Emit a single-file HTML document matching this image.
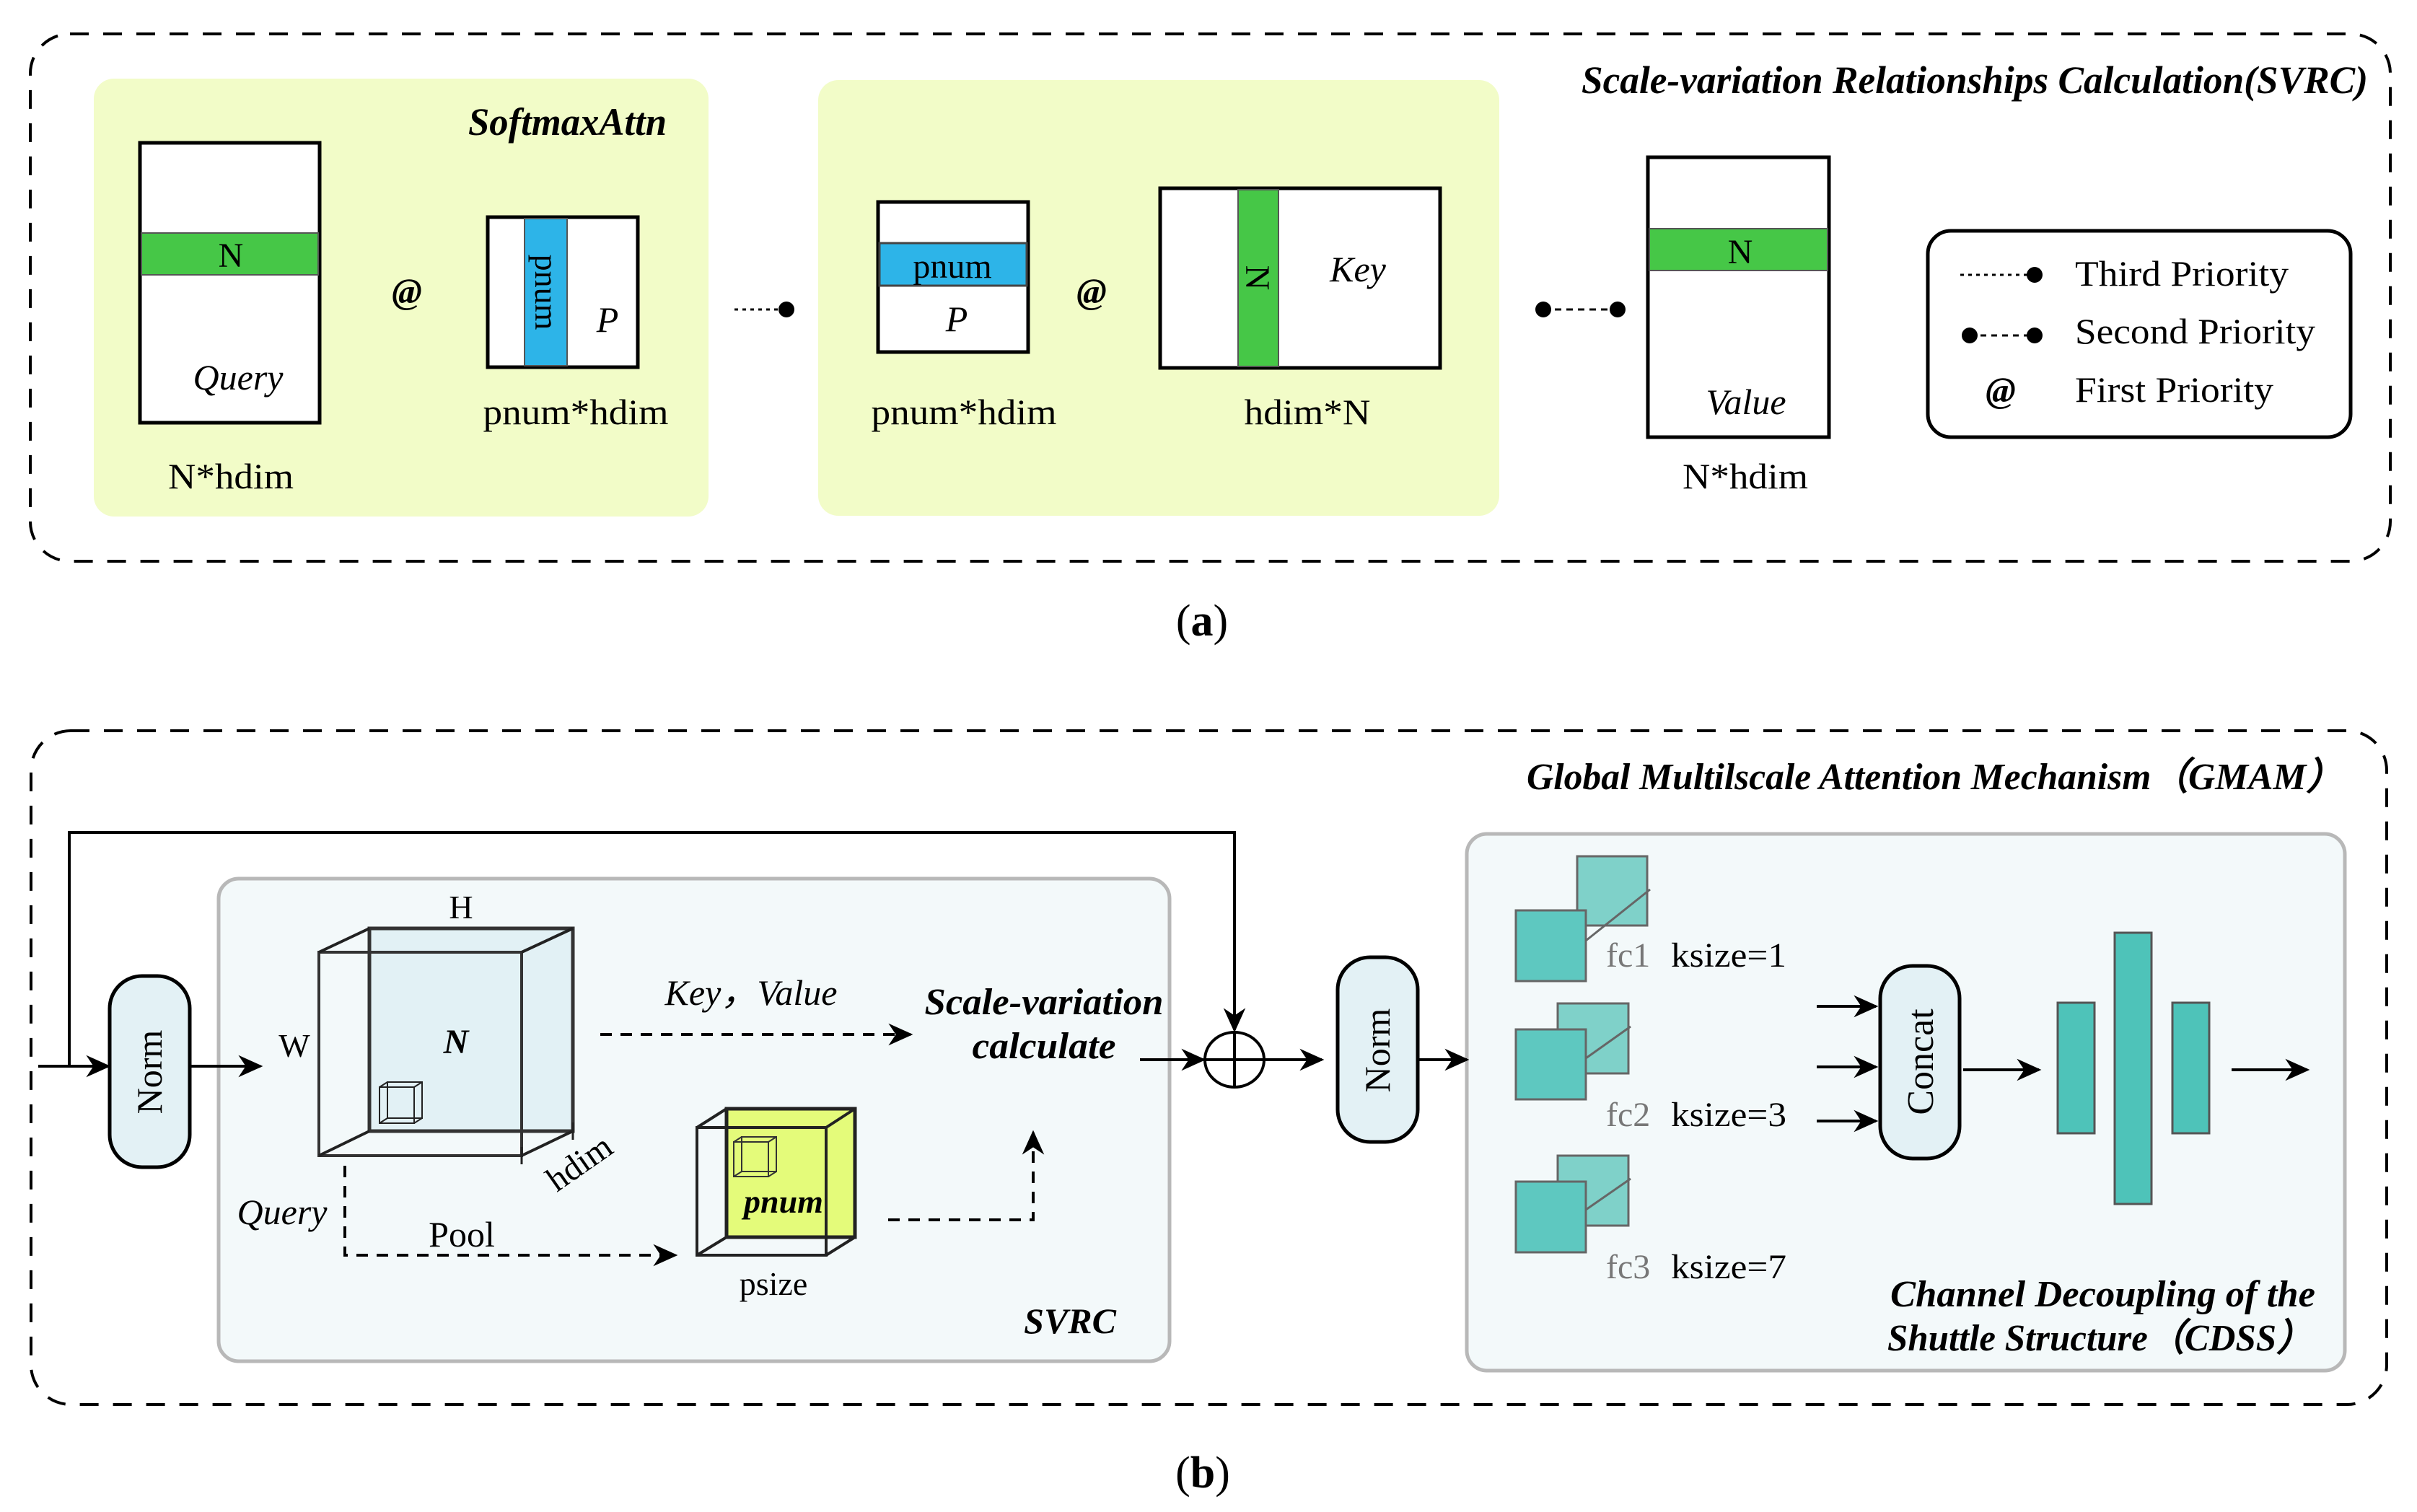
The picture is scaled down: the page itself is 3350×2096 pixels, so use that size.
<!DOCTYPE html>
<html><head><meta charset="utf-8"><style>
html,body{margin:0;padding:0;background:#fff;}
svg{display:block;}
text{font-family:"Liberation Serif",serif;fill:#000;}
.bi{font-weight:bold;font-style:italic;}
.it{font-style:italic;}
</style></head><body>
<svg width="3350" height="2096" viewBox="0 0 3350 2096" xmlns="http://www.w3.org/2000/svg">
<defs>
<marker id="ah" markerWidth="10" markerHeight="10" refX="9" refY="5" orient="auto" markerUnits="userSpaceOnUse" viewBox="0 0 10 10">
</marker>
<marker id="a" viewBox="0 0 20 20" refX="18" refY="10" markerWidth="34" markerHeight="34" orient="auto" markerUnits="userSpaceOnUse">
<path d="M0,1 L20,10 L0,19 L6,10 Z" fill="#000"/>
</marker>
</defs>

<!-- ===== (a) ===== -->
<rect x="42" y="47" width="3271" height="731" rx="55" fill="none" stroke="#000" stroke-width="4" stroke-dasharray="26,20"/>
<text x="3282" y="129" font-size="54" class="bi" text-anchor="end" textLength="1090" lengthAdjust="spacingAndGlyphs">Scale-variation Relationships Calculation(SVRC)</text>

<rect x="130" y="109" width="852" height="607" rx="28" fill="#f2fcc8"/>
<rect x="1134" y="111" width="944" height="604" rx="28" fill="#f2fcc8"/>
<text x="924" y="187" font-size="54" class="bi" text-anchor="end" textLength="275" lengthAdjust="spacingAndGlyphs">SoftmaxAttn</text>

<!-- Query -->
<rect x="194" y="198" width="249" height="388" fill="#fff" stroke="#000" stroke-width="5"/>
<rect x="196" y="323" width="245" height="58" fill="#46c747" stroke="#555" stroke-width="2"/>
<text x="320" y="370" font-size="48" text-anchor="middle">N</text>
<text x="330" y="540" font-size="50" class="it" text-anchor="middle">Query</text>
<text x="320" y="677" font-size="50" text-anchor="middle" textLength="174" lengthAdjust="spacingAndGlyphs">N*hdim</text>
<text x="564" y="420" font-size="50" class="bi" text-anchor="middle">@</text>

<!-- pnum P -->
<rect x="676" y="301" width="208" height="208" fill="#fff" stroke="#000" stroke-width="5"/>
<rect x="727" y="303" width="59" height="204" fill="#2db4e8" stroke="#555" stroke-width="2"/>
<text transform="translate(742,405) rotate(90)" font-size="46" text-anchor="middle">pnum</text>
<text x="842" y="460" font-size="50" class="it" text-anchor="middle">P</text>
<text x="798" y="588" font-size="50" text-anchor="middle" textLength="257" lengthAdjust="spacingAndGlyphs">pnum*hdim</text>

<!-- third priority connector -->
<line x1="1018" y1="429" x2="1088" y2="429" stroke="#000" stroke-width="3" stroke-dasharray="5,6"/>
<circle cx="1090" cy="429" r="11"/>

<!-- pnum P 2 -->
<rect x="1217" y="280" width="208" height="208" fill="#fff" stroke="#000" stroke-width="5"/>
<rect x="1219" y="337" width="204" height="59" fill="#2db4e8" stroke="#444" stroke-width="3"/>
<text x="1320" y="385" font-size="48" text-anchor="middle">pnum</text>
<text x="1326" y="459" font-size="50" class="it" text-anchor="middle">P</text>
<text x="1336" y="588" font-size="50" text-anchor="middle" textLength="257" lengthAdjust="spacingAndGlyphs">pnum*hdim</text>
<text x="1513" y="420" font-size="50" class="bi" text-anchor="middle">@</text>

<!-- Key -->
<rect x="1608" y="261" width="388" height="249" fill="#fff" stroke="#000" stroke-width="5"/>
<rect x="1716" y="263" width="56" height="245" fill="#46c747" stroke="#555" stroke-width="2"/>
<text transform="translate(1727,385) rotate(90)" font-size="48" text-anchor="middle">N</text>
<text x="1882" y="390" font-size="50" class="it" text-anchor="middle">Key</text>
<text x="1812" y="588" font-size="50" text-anchor="middle" textLength="175" lengthAdjust="spacingAndGlyphs">hdim*N</text>

<!-- second priority connector -->
<circle cx="2139" cy="429" r="11"/>
<line x1="2139" y1="429" x2="2242" y2="429" stroke="#000" stroke-width="3" stroke-dasharray="9,7"/>
<circle cx="2242" cy="429" r="11"/>

<!-- Value -->
<rect x="2284" y="218" width="251" height="388" fill="#fff" stroke="#000" stroke-width="5"/>
<rect x="2286" y="317" width="247" height="58" fill="#46c747" stroke="#555" stroke-width="2"/>
<text x="2412" y="365" font-size="48" text-anchor="middle">N</text>
<text x="2420" y="574" font-size="50" class="it" text-anchor="middle">Value</text>
<text x="2419" y="677" font-size="50" text-anchor="middle" textLength="174" lengthAdjust="spacingAndGlyphs">N*hdim</text>

<!-- Legend -->
<rect x="2672" y="320" width="586" height="286" rx="32" fill="#fff" stroke="#000" stroke-width="5"/>
<line x1="2717" y1="381" x2="2815" y2="381" stroke="#000" stroke-width="3" stroke-dasharray="5,6"/>
<circle cx="2820" cy="381" r="11"/>
<text x="2876" y="396" font-size="50" textLength="296" lengthAdjust="spacingAndGlyphs">Third Priority</text>
<circle cx="2730" cy="465" r="11"/>
<line x1="2730" y1="465" x2="2820" y2="465" stroke="#000" stroke-width="3" stroke-dasharray="8,7"/>
<circle cx="2820" cy="465" r="11"/>
<text x="2876" y="476" font-size="50" textLength="333" lengthAdjust="spacingAndGlyphs">Second Priority</text>
<text x="2773" y="557" font-size="50" class="bi" text-anchor="middle">@</text>
<text x="2876" y="557" font-size="50" textLength="275" lengthAdjust="spacingAndGlyphs">First Priority</text>

<text x="1666" y="881" font-size="62" text-anchor="middle">(<tspan font-weight="bold">a</tspan>)</text>

<!-- ===== (b) ===== -->
<rect x="43" y="1013" width="3265" height="934" rx="55" fill="none" stroke="#000" stroke-width="4" stroke-dasharray="26,20"/>
<text x="3248" y="1094" font-size="52" class="bi" text-anchor="end" textLength="1132" lengthAdjust="spacingAndGlyphs">Global Multilscale Attention Mechanism（GMAM）</text>

<!-- SVRC panel -->
<rect x="303" y="1218" width="1318" height="669" rx="28" fill="#f3f9fa" stroke="#b8b8b8" stroke-width="5"/>
<!-- CDSS panel -->
<rect x="2033" y="1156" width="1217" height="744" rx="28" fill="#f3f9fa" stroke="#b8b8b8" stroke-width="5"/>

<!-- input & skip -->
<line x1="53" y1="1478" x2="150" y2="1478" stroke="#000" stroke-width="4" marker-end="url(#a)"/>
<polyline points="96,1478 96,1154 1711,1154 1711,1428" fill="none" stroke="#000" stroke-width="4" marker-end="url(#a)"/>

<!-- Norm 1 -->
<rect x="152" y="1353" width="111" height="265" rx="45" fill="#e3f1f5" stroke="#000" stroke-width="5"/>
<text transform="translate(224,1486) rotate(-90)" font-size="50" text-anchor="middle">Norm</text>
<line x1="263" y1="1478" x2="361" y2="1478" stroke="#000" stroke-width="4" marker-end="url(#a)"/>

<!-- big cube -->
<rect x="512" y="1287" width="282" height="281" fill="#e2f1f5" stroke="#333" stroke-width="5"/>
<rect x="442" y="1320" width="281" height="282" fill="none" stroke="#333" stroke-width="4"/>
<line x1="442" y1="1320" x2="512" y2="1287" stroke="#222" stroke-width="4"/>
<line x1="723" y1="1320" x2="794" y2="1287" stroke="#222" stroke-width="4"/>
<line x1="442" y1="1602" x2="512" y2="1568" stroke="#222" stroke-width="4"/>
<line x1="723" y1="1602" x2="794" y2="1568" stroke="#222" stroke-width="4"/>
<line x1="723" y1="1590" x2="723" y2="1614" stroke="#222" stroke-width="3"/>
<line x1="794" y1="1556" x2="794" y2="1580" stroke="#222" stroke-width="3"/>
<!-- small cube in big -->
<rect x="537" y="1500" width="48" height="50" fill="none" stroke="#222" stroke-width="2"/>
<rect x="526" y="1507" width="48" height="50" fill="none" stroke="#222" stroke-width="2"/>
<line x1="526" y1="1507" x2="537" y2="1500" stroke="#222" stroke-width="2"/>
<line x1="574" y1="1507" x2="585" y2="1500" stroke="#222" stroke-width="2"/>
<line x1="526" y1="1557" x2="537" y2="1550" stroke="#222" stroke-width="2"/>
<line x1="574" y1="1557" x2="585" y2="1550" stroke="#222" stroke-width="2"/>
<text x="639" y="1273" font-size="46" text-anchor="middle">H</text>
<text x="408" y="1465" font-size="46" text-anchor="middle">W</text>
<text x="632" y="1460" font-size="48" class="bi" text-anchor="middle">N</text>
<text transform="translate(812,1625) rotate(-35)" font-size="48" text-anchor="middle">hdim</text>
<text x="391" y="1697" font-size="50" class="it" text-anchor="middle">Query</text>

<!-- pool dashed -->
<polyline points="478,1616 478,1740 936,1740" fill="none" stroke="#000" stroke-width="4" stroke-dasharray="16,12" marker-end="url(#a)"/>
<text x="640" y="1728" font-size="50" text-anchor="middle">Pool</text>
<!-- key value dashed -->
<line x1="832" y1="1434" x2="1262" y2="1434" stroke="#000" stroke-width="4" stroke-dasharray="16,12" marker-end="url(#a)"/>
<text x="1041" y="1393" font-size="50" class="it" text-anchor="middle" textLength="239" lengthAdjust="spacingAndGlyphs">Key，Value</text>

<!-- yellow cube -->
<rect x="1007" y="1537" width="178" height="178" fill="#e4fb7a" stroke="#222" stroke-width="5"/>
<rect x="966" y="1563" width="179" height="177" fill="none" stroke="#222" stroke-width="4"/>
<line x1="966" y1="1563" x2="1007" y2="1537" stroke="#222" stroke-width="4"/>
<line x1="1145" y1="1563" x2="1185" y2="1537" stroke="#222" stroke-width="4"/>
<line x1="966" y1="1740" x2="1007" y2="1715" stroke="#222" stroke-width="4"/>
<line x1="1145" y1="1740" x2="1185" y2="1715" stroke="#222" stroke-width="4"/>
<rect x="1028" y="1576" width="48" height="48" fill="none" stroke="#333" stroke-width="2"/>
<rect x="1017" y="1583" width="48" height="48" fill="none" stroke="#333" stroke-width="2"/>
<line x1="1017" y1="1583" x2="1028" y2="1576" stroke="#333" stroke-width="2"/>
<line x1="1065" y1="1583" x2="1076" y2="1576" stroke="#333" stroke-width="2"/>
<line x1="1017" y1="1631" x2="1028" y2="1624" stroke="#333" stroke-width="2"/>
<line x1="1065" y1="1631" x2="1076" y2="1624" stroke="#333" stroke-width="2"/>
<text x="1086" y="1681" font-size="46" class="bi" text-anchor="middle">pnum</text>
<text x="1072" y="1795" font-size="46" text-anchor="middle">psize</text>
<polyline points="1231,1691 1432,1691 1432,1570" fill="none" stroke="#000" stroke-width="4" stroke-dasharray="16,12" marker-end="url(#a)"/>

<text x="1447" y="1406" font-size="52" class="bi" text-anchor="middle" textLength="331" lengthAdjust="spacingAndGlyphs">Scale-variation</text>
<text x="1447" y="1467" font-size="52" class="bi" text-anchor="middle" textLength="199" lengthAdjust="spacingAndGlyphs">calculate</text>
<text x="1547" y="1848" font-size="50" class="bi" text-anchor="end">SVRC</text>

<!-- plus circle -->
<line x1="1580" y1="1469" x2="1668" y2="1469" stroke="#000" stroke-width="4" marker-end="url(#a)"/>
<ellipse cx="1711" cy="1469" rx="41" ry="38" fill="#fff" stroke="#000" stroke-width="4"/>
<line x1="1670" y1="1469" x2="1752" y2="1469" stroke="#000" stroke-width="4"/>
<line x1="1711" y1="1431" x2="1711" y2="1507" stroke="#000" stroke-width="4"/>
<line x1="1752" y1="1469" x2="1832" y2="1469" stroke="#000" stroke-width="4" marker-end="url(#a)"/>

<!-- Norm 2 -->
<rect x="1854" y="1327" width="111" height="256" rx="45" fill="#e3f1f5" stroke="#000" stroke-width="5"/>
<text transform="translate(1926,1456) rotate(-90)" font-size="50" text-anchor="middle">Norm</text>
<line x1="1965" y1="1469" x2="2033" y2="1469" stroke="#000" stroke-width="4" marker-end="url(#a)"/>

<!-- fc blocks -->
<g stroke="#666" stroke-width="3">
<rect x="2186" y="1187" width="97" height="96" fill="#7fd1c9"/>
<rect x="2101" y="1262" width="97" height="98" fill="#5ec8c0"/>
<line x1="2198" y1="1304" x2="2287" y2="1233"/>
<rect x="2159" y="1391" width="98" height="97" fill="#7fd1c9"/>
<rect x="2101" y="1427" width="97" height="97" fill="#5ec8c0"/>
<line x1="2198" y1="1467" x2="2260" y2="1423"/>
<rect x="2159" y="1602" width="98" height="97" fill="#7fd1c9"/>
<rect x="2101" y="1638" width="97" height="98" fill="#5ec8c0"/>
<line x1="2198" y1="1677" x2="2260" y2="1634"/>
</g>
<text x="2226" y="1340" font-size="48" fill="#777" style="fill:#777">fc1</text>
<text x="2316" y="1340" font-size="48" textLength="160" lengthAdjust="spacingAndGlyphs">ksize=1</text>
<text x="2226" y="1561" font-size="48" style="fill:#777">fc2</text>
<text x="2316" y="1561" font-size="48" textLength="160" lengthAdjust="spacingAndGlyphs">ksize=3</text>
<text x="2226" y="1772" font-size="48" style="fill:#777">fc3</text>
<text x="2316" y="1772" font-size="48" textLength="160" lengthAdjust="spacingAndGlyphs">ksize=7</text>

<line x1="2518" y1="1395" x2="2600" y2="1395" stroke="#000" stroke-width="4" marker-end="url(#a)"/>
<line x1="2518" y1="1479" x2="2600" y2="1479" stroke="#000" stroke-width="4" marker-end="url(#a)"/>
<line x1="2518" y1="1554" x2="2600" y2="1554" stroke="#000" stroke-width="4" marker-end="url(#a)"/>
<rect x="2606" y="1339" width="110" height="267" rx="45" fill="#e3f1f5" stroke="#000" stroke-width="5"/>
<text transform="translate(2679,1472) rotate(-90)" font-size="52" text-anchor="middle">Concat</text>
<line x1="2721" y1="1483" x2="2826" y2="1483" stroke="#000" stroke-width="4" marker-end="url(#a)"/>

<g fill="#4ec3b9" stroke="#555" stroke-width="3">
<rect x="2852" y="1390" width="51" height="181"/>
<rect x="2931" y="1293" width="51" height="376"/>
<rect x="3011" y="1390" width="51" height="181"/>
</g>
<line x1="3093" y1="1483" x2="3198" y2="1483" stroke="#000" stroke-width="4" marker-end="url(#a)"/>

<text x="3209" y="1811" font-size="52" class="bi" text-anchor="end" textLength="589" lengthAdjust="spacingAndGlyphs">Channel Decoupling of the</text>
<text x="3206" y="1872" font-size="52" class="bi" text-anchor="end" textLength="590" lengthAdjust="spacingAndGlyphs">Shuttle Structure（CDSS）</text>

<text x="1667" y="2062" font-size="62" text-anchor="middle">(<tspan font-weight="bold">b</tspan>)</text>
</svg>
</body></html>
